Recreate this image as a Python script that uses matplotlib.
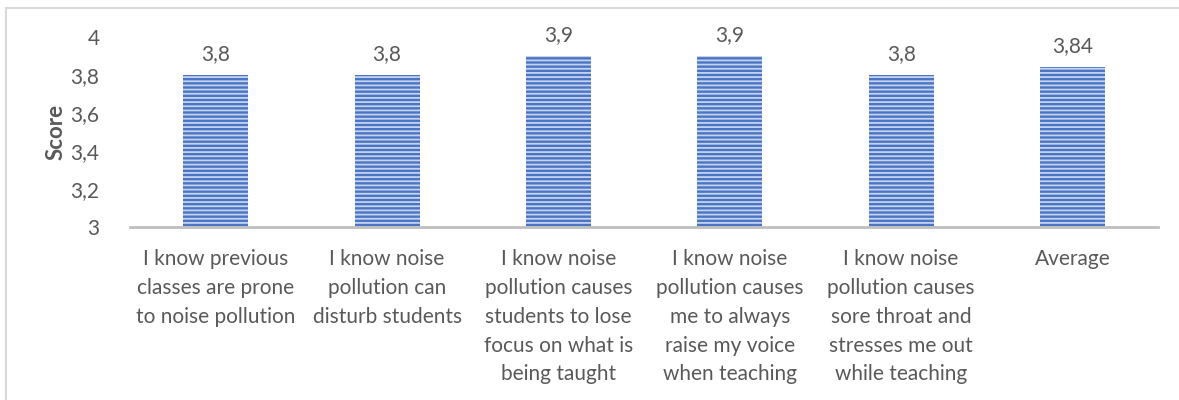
import matplotlib.pyplot as plt
from matplotlib.patches import Rectangle

plt.rcParams['font.family'] = ['Lato', 'DejaVu Sans']
plt.rcParams['hatch.linewidth'] = 1.3

# chart data
categories = [
    'I know previous\nclasses are prone\nto noise pollution',
    'I know noise\npollution can\ndisturb students',
    'I know noise\npollution causes\nstudents to lose\nfocus on what is\nbeing taught',
    'I know noise\npollution causes\nme to always\nraise my voice\nwhen teaching',
    'I know noise\npollution causes\nsore throat and\nstresses me out\nwhile teaching',
    'Average',
]
scores = [3.8, 3.8, 3.9, 3.9, 3.8, 3.84]
value_labels = ['3,8', '3,8', '3,9', '3,9', '3,8', '3,84']
yticks = [3, 3.2, 3.4, 3.6, 3.8, 4]
ytick_labels = ['3', '3,2', '3,4', '3,6', '3,8', '4']

text_color = '#595959'
fs = 15

fig = plt.figure(figsize=(11.79, 4), dpi=100)
# light grey frame round the chart
fig.patches.append(Rectangle((0.0055, -0.05), 1.2, 1.03, transform=fig.transFigure,
                             fill=False, edgecolor='#d9d9d9', linewidth=1.5))

ax = fig.add_axes([0.1103, 0.4325, 0.872, 0.475])
x = range(len(categories))
bars = ax.bar(x, [s - 3 for s in scores], bottom=3, width=0.38,
              color='#4a74c4', edgecolor='#c5d3ee', hatch='----', linewidth=0)

for bar, lab in zip(bars, value_labels):
    ax.text(bar.get_x() + bar.get_width() / 2, bar.get_y() + bar.get_height() + 0.06,
            lab, ha='center', va='bottom', fontsize=fs, color=text_color, clip_on=False)

ax.set_xlim(-0.5, len(categories) - 0.5)
ax.set_ylim(3, 4)
ax.set_yticks(yticks)
ax.set_yticklabels(ytick_labels, fontsize=fs, color=text_color)
ax.set_xticks(list(x))
ax.set_xticklabels(categories, fontsize=fs, color=text_color, linespacing=1.55)
ax.tick_params(axis='both', length=0)
ax.tick_params(axis='y', pad=22)
ax.tick_params(axis='x', pad=16)

for side in ['top', 'right', 'left']:
    ax.spines[side].set_visible(False)
ax.spines['bottom'].set_color('#bfbfbf')
ax.spines['bottom'].set_linewidth(2)

ax.set_ylabel('Score', fontsize=16, fontweight='bold', color=text_color, labelpad=3)

plt.savefig('out.png', dpi=100)
